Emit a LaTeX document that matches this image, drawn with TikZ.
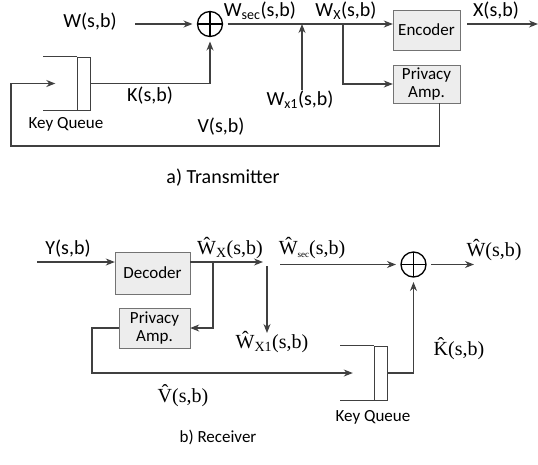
\documentclass[tikz,border=0pt]{standalone}
\usepackage{fontspec}
\setmainfont{Carlito}
\newfontfamily\tms{Liberation Serif}
\usetikzlibrary{arrows.meta,positioning}

\begin{document}
\begin{tikzpicture}[x=1pt,y=-1pt,
        blk/.style={draw=black!55, fill=black!7, minimum width=67pt, minimum height=40pt,
                    inner sep=1pt, align=center, font=\fontsize{17}{18}\selectfont},
        sumnode/.style={draw, circle, minimum size=25pt, inner sep=0pt, outer sep=5pt, line width=1.3pt,
                    path picture={\draw[line width=1.1pt] (path picture bounding box.north) -- (path picture bounding box.south)
                                  (path picture bounding box.west) -- (path picture bounding box.east);}},
        queue/.style={draw=black!75, minimum width=13pt, minimum height=53pt, inner sep=0pt},
        lbl/.style={inner sep=0pt, font=\fontsize{20}{22}\selectfont},
        tlbl/.style={inner sep=0pt, font=\tms\fontsize{20}{22}\selectfont},
        note/.style={inner sep=0pt, font=\fontsize{17}{19}\selectfont},
        arr/.style={-{Stealth[length=9pt,width=7pt]}, draw=black!75, line width=1.1pt},
        ln/.style={draw=black!75, line width=1.1pt},
    ]
        \useasboundingbox (0,0) rectangle (538,464);

        % a) Transmitter
        \node[sumnode] (sum1) at (210,24) {};
        \node[blk]     (enc)  at (426.5,30) {Encoder};
        \node[blk, minimum height=38pt] (pa1) at (426.5,84) {Privacy\\Amp.};
        \node[queue]   (kq1)  at (84,83.5) {};
        \draw[ln] (kq1.north west) -- ++(-34,0);
        \draw[ln] (kq1.south west) -- ++(-34,0);

        \coordinate (win)  at (135,24);
        \coordinate (xout) at (538,24);
        \coordinate (br1)  at (343,24);
        \coordinate (jx1)  at (302,24);
        \coordinate (wx1)  at (302,90);

        \draw[arr] (win) -- (sum1);
        \draw[arr] (sum1) -- (sum1 -| enc.west);
        \draw[arr] (wx1) -- (jx1);
        \draw[arr] (br1) |- (pa1.west);
        \draw[arr] (enc.east |- sum1) ++(7,0) -- (xout);
        \draw[arr] ([xshift=13pt]pa1.south) |- (11,146) |- ([xshift=-22pt]kq1.west);
        \draw[arr] (kq1.east) -| (sum1.south);

        \node[lbl] (lw)    at (90,22)   {W(s,b)};
        \node[lbl] (lwsec) at (260,11)  {W\textsubscript{sec}(s,b)};
        \node[lbl] (lwx)   at (346,11)  {W\textsubscript{X}(s,b)};
        \node[lbl] (lx)    at (496,11)  {X(s,b)};
        \node[lbl] (lwx1)  at (300,100) {W\textsubscript{x1}(s,b)};
        \node[lbl] (lk)    at (150,96)  {K(s,b)};
        \node[lbl] (lv)    at (221,127) {V(s,b)};
        \node[note] (lkq1) at (66,124)  {Key Queue};
        \node[lbl] (capa)  at (223,178) {a) Transmitter};

        % b) Receiver
        \node[blk, minimum width=75pt, minimum height=42pt] (dec) at (152.5,273) {Decoder};
        \node[blk, minimum width=71pt] (pa2) at (154.5,328) {Privacy\\Amp.};
        \node[sumnode] (sum2) at (413.5,264.5) {};
        \node[queue, minimum height=54pt] (kq2) at (380.5,373) {};
        \draw[ln] (kq2.north west) -- ++(-34,0);
        \draw[ln] (kq2.south west) -- ++(-34,0);

        \coordinate (yin)  at (37,262);
        \coordinate (jd)   at (263,262);
        \coordinate (br2)  at (213,262);
        \coordinate (jv)   at (267,266);
        \coordinate (wx1d) at (267,333);
        \coordinate (wsin) at (280,264.5);
        \coordinate (wout) at (474,264.5);

        \draw[arr] (yin) -- (yin -| dec.west);
        \draw[arr] (yin -| dec.east) -- (jd);
        \draw[arr] (br2) |- (pa2.east);
        \draw[arr] (jv) -- (wx1d);
        \draw[arr] (wsin) -- (sum2);
        \draw[arr] (sum2) -- (wout);
        \draw[arr] (pa2.west) -| (92,373) -- ([xshift=-21pt]kq2.west);
        \draw[arr] (kq2.east) -| (sum2.south);

        \node[lbl]  (ly)     at (68,249)  {Y(s,b)};
        \node[tlbl] (lwxh)   at (230,248) {\^W\textsubscript{X}(s,b)};
        \node[tlbl] (lwsech) at (312,248) {\^W\raisebox{-3pt}{\fontsize{9}{9}\selectfont sec}(s,b)};
        \node[tlbl] (lwh)    at (494,250) {\^W(s,b)};
        \node[tlbl] (lwx1h)  at (272,342) {\^W\textsubscript{X1}(s,b)};
        \node[tlbl] (lkh)    at (459,349) {\^K(s,b)};
        \node[tlbl] (lvh)    at (183,396) {\^V(s,b)};
        \node[note] (lkq2)   at (373,417) {Key Queue};
        \node[note] (capb)   at (218,437) {b) Receiver};
    \end{tikzpicture}
\end{document}
